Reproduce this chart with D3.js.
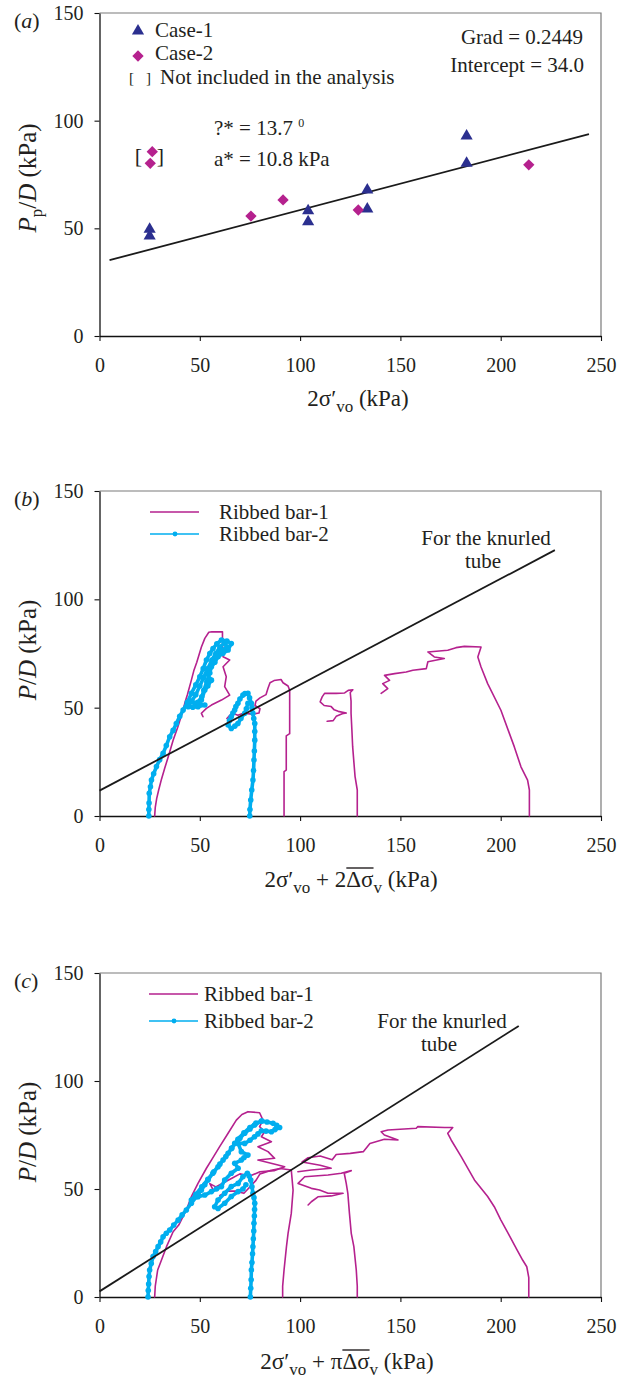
<!DOCTYPE html>
<html>
<head>
<meta charset="utf-8">
<script src="https://cdn.jsdelivr.net/npm/d3@7"></script>
<style>
  body { margin: 0; background: #fff; }
  text { font-family: "Liberation Serif", "Times New Roman", serif; fill: #231f20; }
</style>
</head>
<body>
<svg width="626" height="1381"></svg>
<script>
// ---- data ----
var xTicks = [0, 50, 100, 150, 200, 250];
var yTicks = [0, 50, 100, 150];

// panel (a)
var case1X = [25, 25, 104, 104, 133.5, 133.5, 183, 183];
var case1Y = [49.6, 46.4, 58.2, 53.1, 67.8, 59, 92.9, 80.2];
var case2X = [75.5, 91.5, 129, 214];
var case2Y = [55.7, 63.2, 58.5, 79.5];
var excludedX = [26.3, 25.3];
var excludedY = [85.6, 80.2];
var gradA = 0.2449, interceptA = 34.0;
var fitXA = [5, 244];

// panel (b)
var knurledB = [[0, 11.7], [227, 122.7]];
var bar1B = [
  [[27.5,0],[27.8,4],[28.5,8],[29.5,12],[30.9,17],[32.5,22],[34.5,28],[36.7,35],[39,41],[41.2,47.4],[42.5,52],[43.8,56],[45.8,62.7],[47,67],[48.5,71],[50.8,78],[52.5,82],[54.5,84.8],[56,85],[61.3,85],[61.3,79],[61.6,73.5],[64.9,72],[61.6,68.9],[63.2,64.3],[62.4,59.7],[64.9,55.8],[60.8,53.5],[55.8,51.2],[53.3,49.7],[50.8,47.4],[51.6,45.8]],
  [[63.5,45],[66,47.5],[69,46.5],[72,47.5],[76,47],[79.5,47.5],[80,49.5],[77.5,51],[78,53],[80,54.5],[83,56],[84,59],[85,61.5],[87,62.5],[90.5,63],[91.5,61.5],[94,60],[94.8,58],[94.8,48],[94.8,38],[93.1,37],[93.1,21.2],[92,20.5],[92,0]],
  [[113.5,43.7],[116.5,44],[118,46],[121,47.2],[123,47.5],[119,48.3],[117,49],[115.5,50.5],[112,51],[110,52.7],[111,55],[112.2,56.6],[118,56.6],[122.2,56.8],[124,58],[126.3,58.3],[125,57],[125.4,53],[125.4,47.4],[125.8,40],[126.2,32],[126.8,25],[127.4,18.2],[128.5,12],[128.5,0]],
  [[140.4,56.6],[143.7,58.8],[141.2,61.1],[144.6,62.6],[142.1,64.9],[147.1,65.7],[152.9,66.5],[156.2,67.3],[162.9,68],[163.7,71.2],[171.9,72.7],[166.9,73.4],[163.7,75.7],[173.6,76.5],[177.7,77.7],[181.9,78.3],[190.2,78],[188.6,73.4],[190.2,68.8],[193.5,61.1],[200.1,48.8],[206.8,31.9],[210.1,22.7],[213.4,16.6],[214.3,12],[214.3,0]]
];
var bar2B = [
  [[24.6,0],[24.6,3],[24.7,6],[24.8,10.5],[25.4,13.5],[25.9,16.6],[27,19.5],[28.4,22.8],[30,26],[31.7,28.9],[33.3,32.5],[35,36.6],[36.7,39.5],[38.3,42.7],[40,46],[41.7,48.9],[43.8,52.5],[45.8,56.6],[48,60.5],[50,64.3],[51.7,68],[53.3,72],[55,75],[56.6,77.3],[58.5,79.5],[60.8,81.2],[63.5,80.8],[65.7,79.6],[64.1,76.6],[61.5,75],[59.1,73.5],[57.5,71],[55.8,68.9],[53.3,65.8],[55.8,62.7],[54,60],[52.5,58.1],[50.8,53.5],[47.5,52],[52.5,51.2],[49.1,50.4],[46.5,50.2],[44.2,50.4],[46,53],[48,56],[50,60],[52,64],[54,68],[56,72],[58,75],[60,78],[62.5,80],[63.5,78],[61,76.5],[58,74],[56,70],[55,66],[53.5,62],[52,58],[51,55],[49,52.5]],
  [[74.9,0],[75,3],[75.4,7.4],[75.9,12],[76.5,16.6],[76.8,21],[77,25.8],[77.2,30],[77.4,35],[77.4,39],[77.4,42.7],[76.9,45],[76.5,47.4],[76,50],[75.7,52],[74.8,54.5],[74,56.6],[72.5,56.5],[71.5,55.8],[70,54],[69,52],[68,50.5],[67.4,48.9],[66.5,47.5],[65.7,45.8],[64.8,44],[64.1,42],[65.7,40.4],[67.5,41.5],[69,42.7],[70.5,45],[72.4,47.4],[73.2,49.5],[74,52]]
];

// panel (c)
var knurledC = [[0, 2.6], [209, 125.5]];
var bar1C = [
  [[27.5,0],[27.8,5],[29,12.5],[30.9,17.1],[33.4,23.3],[36.7,30.2],[39.5,33.3],[43.3,40.3],[45.8,46.5],[49.1,52.6],[53.3,59.6],[55.8,63.4],[59.9,69.6],[64.1,75.8],[68.2,81.9],[71,84.5],[74,85.8],[79.8,85.3],[81.5,81.9],[79.8,78.9],[82.3,76.5],[80.7,74.2],[85.7,71.9],[79,69.6],[84,67.3],[87.3,64.2],[79,63.4],[89,61.1],[92.3,60.3],[87,58.5],[80,58],[75,56],[70,57],[66,55],[62,53],[58,51],[55,52.5],[57,49]],
  [[60,47],[64,49],[68,49],[72,48],[74,50],[78,54],[80,57],[85,58.5],[90,59.5],[95.6,58.8],[96.5,49.5],[95.6,38.7],[94,29.5],[93.2,23.3],[92,12.5],[91.3,5],[91.3,0]],
  [[104,42.6],[105.6,44.1],[108.9,46.4],[115.5,46.8],[121.4,48],[113.9,48],[109.7,49.5],[105.6,50.3],[99,52.6],[102.3,55.7],[113.9,56.5],[120.5,57.3],[125.5,58.5],[122,57.3],[123,52.6],[123.8,48],[124.6,38.7],[125.5,29.5],[126.8,23.3],[128,12.5],[128.5,5],[128.5,0]],
  [[98.9,58],[105.6,58.8],[115.5,59.6],[110,61],[101,62.5],[104,64.5],[110,65.3],[116,63.5],[118,66],[125,66.5],[131.5,67.3],[134.8,71.1],[142,73],[148.8,72.7],[142,75],[140.4,76.5],[143.8,77.3],[157.9,78.1],[158.7,78.9],[172,78.5],[176.1,78.5],[173.6,75.8],[175.3,72.7],[180.3,65],[186.9,54.2],[193.5,46.5],[196.8,41.8],[200.1,35.6],[204,29],[208,22],[211,17],[213,14],[214,9],[214,0]]
];
var bar2C = [
  [[24.2,0],[24.3,3],[24.5,6],[24.7,9.5],[25,12.5],[25.8,15.5],[26.7,18.7],[28,21],[29.2,23.3],[30.5,25.5],[31.7,27.9],[33.3,29.5],[35,31],[37,33.3],[39.2,35.6],[41.2,38],[43.3,40.3],[45.8,43.4],[48.3,46.5],[50.8,49.5],[52.5,52],[54.1,54.2],[56.5,57.3],[59.1,60.3],[61.6,63.4],[64.1,66.5],[65.8,68.8],[67.4,71.1],[70,73.5],[72.4,75.8],[75,77.8],[77.3,79.6],[80.7,81.5],[83.5,81],[86.5,80.4],[88.3,79.5],[89.8,78.5],[87.5,77.5],[85.7,76.5],[83,76.8],[80.7,77],[79,75.5],[77.3,74.2],[75,72.6],[72.4,71.1],[69.1,71.1],[70.7,67.3],[74,65.7],[72,64.5],[70.7,63.4],[67.4,61.9],[69.1,59.6],[65.7,57.3],[62.4,54.2],[60.8,51.1],[58.3,50],[55.8,48.8],[52.5,47.2],[49.1,46.4],[45.8,44.9],[48,47.5],[51,51],[54,54.5],[57,58],[60,61.5],[63,65],[66,69],[69,73],[72,76],[75,78.5],[78,80.5],[81,81.5]],
  [[75.2,0],[75.4,4],[75.6,8],[75.7,12.5],[76,16],[76.3,20],[76.5,23.3],[76.7,27],[76.9,30.5],[77,34.1],[77.2,37.5],[77.3,40.5],[77.4,43.4],[77,46],[76.5,48],[76,51],[75.4,54.2],[74.6,56],[73.7,57.3],[71.5,55.7],[69.1,52.6],[65.7,51.1],[62.4,48],[59.1,44.9],[57.4,41.8],[59.1,41],[62.4,43.4],[65.7,46.5],[69.1,48.8],[71.5,50],[73,52]]
];

var navy = '#2b2f8f', magenta = '#b5218e', cyan = '#00aeef';

// ---- drawing ----
var svg = d3.select('svg');
var x = d3.scaleLinear().domain([0, 250]).range([99.5, 601]);

function makePanel(top, bottom, tag) {
  var y = d3.scaleLinear().domain([0, 150]).range([bottom, top]);
  // grey frame on top / right
  svg.append('path')
    .attr('d', 'M' + x(0) + ',' + y(150) + 'H' + x(250) + 'V' + y(0))
    .attr('fill', 'none').attr('stroke', '#7a7a7a').attr('stroke-width', 1.2);

  var gx = svg.append('g')
    .attr('transform', 'translate(0,' + y(0) + ')')
    .call(d3.axisBottom(x).tickValues(xTicks).tickSize(5).tickSizeOuter(0).tickPadding(17));
  var gy = svg.append('g')
    .attr('transform', 'translate(' + x(0) + ',0)')
    .call(d3.axisLeft(y).tickValues(yTicks).tickSize(5).tickSizeOuter(0).tickPadding(11));
  [gx, gy].forEach(function(g) {
    g.attr('font-family', null).attr('font-size', null);
    g.select('.domain').attr('stroke', '#111').attr('stroke-width', 1.3);
    g.selectAll('.tick line').attr('stroke', '#111').attr('stroke-width', 1.1);
    g.selectAll('.tick text').style('font-size', '20px').attr('fill', '#231f20');
  });

  // panel tag, e.g. (a)
  var t = svg.append('text').attr('x', 14).attr('y', y(150) + 15).style('font-size', '22px');
  t.append('tspan').text('(');
  t.append('tspan').style('font-style', 'italic').text(tag);
  t.append('tspan').text(')');
  return y;
}

function yTitle(yc, sub) {
  var t = svg.append('text')
    .attr('transform', 'translate(36,' + yc + ') rotate(-90)')
    .attr('text-anchor', 'middle').style('font-size', '25px');
  t.append('tspan').style('font-style', 'italic').text('P');
  if (sub) t.append('tspan').attr('dy', 6).style('font-size', '17px').text(sub);
  t.append('tspan').attr('dy', sub ? -6 : 0).text('/');
  t.append('tspan').style('font-style', 'italic').text('D');
  t.append('tspan').text(' (kPa)');
}

function xTitle(xc, yb, extra) {
  var t = svg.append('text').attr('x', xc).attr('y', yb)
    .attr('text-anchor', 'middle').style('font-size', '23px');
  t.append('tspan').text('2\u03c3\u2032');
  t.append('tspan').attr('dy', 6).style('font-size', '17px').text('vo');
  var bar = null;
  if (extra) {
    t.append('tspan').attr('dy', -6).text(' + ' + extra);
    bar = t.append('tspan').text('\u0394\u03c3');
    t.append('tspan').attr('dy', 6).style('font-size', '17px').text('v');
    t.append('tspan').attr('dy', -6).text(' (kPa)');
  } else {
    t.append('tspan').attr('dy', -6).text(' (kPa)');
  }
  if (bar) {
    var node = bar.node();
    var p0 = node.getStartPositionOfChar(0);
    var w = node.getComputedTextLength();
    svg.append('line')
      .attr('x1', p0.x).attr('x2', p0.x + w)
      .attr('y1', yb - 19).attr('y2', yb - 19)
      .attr('stroke', '#231f20').attr('stroke-width', 1.4);
  }
}

function drawLine(y, pts, color, width) {
  svg.append('path')
    .datum(pts)
    .attr('d', d3.line().x(function(d) { return x(d[0]); }).y(function(d) { return y(d[1]); }))
    .attr('fill', 'none').attr('stroke', color).attr('stroke-width', width)
    .attr('stroke-linejoin', 'round').attr('stroke-linecap', 'round');
}

function drawBeads(y, pts) {
  drawLine(y, pts, cyan, 3.6);
  svg.append('g').selectAll('circle')
    .data(pts).enter().append('circle')
    .attr('cx', function(d) { return x(d[0]); })
    .attr('cy', function(d) { return y(d[1]); })
    .attr('r', 2.8).attr('fill', cyan);
}

function legendBars(yy, lx, tx) {
  svg.append('line').attr('x1', lx).attr('x2', lx + 49).attr('y1', yy[0]).attr('y2', yy[0])
    .attr('stroke', magenta).attr('stroke-width', 1.6);
  svg.append('line').attr('x1', lx).attr('x2', lx + 49).attr('y1', yy[1]).attr('y2', yy[1])
    .attr('stroke', cyan).attr('stroke-width', 1.6);
  svg.append('circle').attr('cx', lx + 25).attr('cy', yy[1]).attr('r', 2.4).attr('fill', cyan);
  svg.append('text').attr('x', tx).attr('y', yy[0] + 7).style('font-size', '21px').text('Ribbed bar-1');
  svg.append('text').attr('x', tx).attr('y', yy[1] + 7).style('font-size', '21px').text('Ribbed bar-2');
}

function knurledLabel(cx, yb) {
  svg.append('text').attr('x', cx).attr('y', yb).attr('text-anchor', 'middle')
    .style('font-size', '21px').text('For the knurled');
  svg.append('text').attr('x', cx - 3).attr('y', yb + 23).attr('text-anchor', 'middle')
    .style('font-size', '21px').text('tube');
}

// ---------- panel (a) ----------
var yA = makePanel(13, 336, 'a');
yTitle(178, 'p');
xTitle(358, 406, null);

svg.append('line')
  .attr('x1', x(fitXA[0])).attr('y1', yA(interceptA + gradA * fitXA[0]))
  .attr('x2', x(fitXA[1])).attr('y2', yA(interceptA + gradA * fitXA[1]))
  .attr('stroke', '#1a1a1a').attr('stroke-width', 1.8);

var tri = d3.symbol().type(d3.symbolTriangle).size(64);
var dia = d3.symbol().type(d3.symbolSquare).size(64);

svg.append('g').selectAll('path').data(d3.range(case1X.length)).enter().append('path')
  .attr('d', tri)
  .attr('transform', function(i) { return 'translate(' + x(case1X[i]) + ',' + yA(case1Y[i]) + ')'; })
  .attr('fill', navy);
svg.append('g').selectAll('path').data(d3.range(case2X.length)).enter().append('path')
  .attr('d', dia)
  .attr('transform', function(i) { return 'translate(' + x(case2X[i]) + ',' + yA(case2Y[i]) + ') rotate(45)'; })
  .attr('fill', magenta);
svg.append('g').selectAll('path').data(d3.range(excludedX.length)).enter().append('path')
  .attr('d', dia)
  .attr('transform', function(i) { return 'translate(' + x(excludedX[i]) + ',' + yA(excludedY[i]) + ') rotate(45)'; })
  .attr('fill', magenta);
svg.append('text').attr('x', x(25) - 15).attr('y', yA(80) - 1).style('font-size', '22px').text('[');
svg.append('text').attr('x', x(25) + 7).attr('y', yA(80) - 1).style('font-size', '22px').text(']');

// legend (a)
svg.append('path').attr('d', tri).attr('transform', 'translate(138,31)').attr('fill', navy);
svg.append('path').attr('d', dia).attr('transform', 'translate(138,56) rotate(45)').attr('fill', magenta);
svg.append('text').attr('x', 155).attr('y', 37).style('font-size', '21px').text('Case-1');
svg.append('text').attr('x', 155).attr('y', 59.5).style('font-size', '21px').text('Case-2');
svg.append('text').attr('x', 129).attr('y', 83).style('font-size', '15px').text('[');
svg.append('text').attr('x', 146).attr('y', 83).style('font-size', '15px').text(']');
svg.append('text').attr('x', 160).attr('y', 83.5).style('font-size', '21px').text('Not included in the analysis');

svg.append('text').attr('x', 583).attr('y', 43.5).attr('text-anchor', 'end').style('font-size', '21px').text('Grad = 0.2449');
svg.append('text').attr('x', 584).attr('y', 72).attr('text-anchor', 'end').style('font-size', '21px').text('Intercept = 34.0');

var phi = svg.append('text').attr('x', 214).attr('y', 135).style('font-size', '21px');
phi.append('tspan').text('?* = 13.7 ');
phi.append('tspan').attr('dy', -8).style('font-size', '12px').text('0');
svg.append('text').attr('x', 214).attr('y', 166).style('font-size', '21px').text('a* = 10.8 kPa');

// ---------- panel (b) ----------
var yB = makePanel(491, 816, 'b');
yTitle(650, null);
xTitle(351, 887, '2');
bar1B.forEach(function(seg) { drawLine(yB, seg, magenta, 1.6); });
bar2B.forEach(function(seg) { drawBeads(yB, seg); });
svg.append('line')
  .attr('x1', x(knurledB[0][0])).attr('y1', yB(knurledB[0][1]))
  .attr('x2', x(knurledB[1][0])).attr('y2', yB(knurledB[1][1]))
  .attr('stroke', '#1a1a1a').attr('stroke-width', 1.8);
legendBars([512, 534], 150, 219);
knurledLabel(486, 545);

// ---------- panel (c) ----------
var yC = makePanel(973, 1297, 'c');
yTitle(1132, null);
xTitle(347, 1369, '\u03c0');
bar1C.forEach(function(seg) { drawLine(yC, seg, magenta, 1.6); });
bar2C.forEach(function(seg) { drawBeads(yC, seg); });
svg.append('line')
  .attr('x1', x(knurledC[0][0])).attr('y1', yC(knurledC[0][1]))
  .attr('x2', x(knurledC[1][0])).attr('y2', yC(knurledC[1][1]))
  .attr('stroke', '#1a1a1a').attr('stroke-width', 1.8);
legendBars([994, 1021], 149, 204);
knurledLabel(442, 1028);
</script>
</body>
</html>
